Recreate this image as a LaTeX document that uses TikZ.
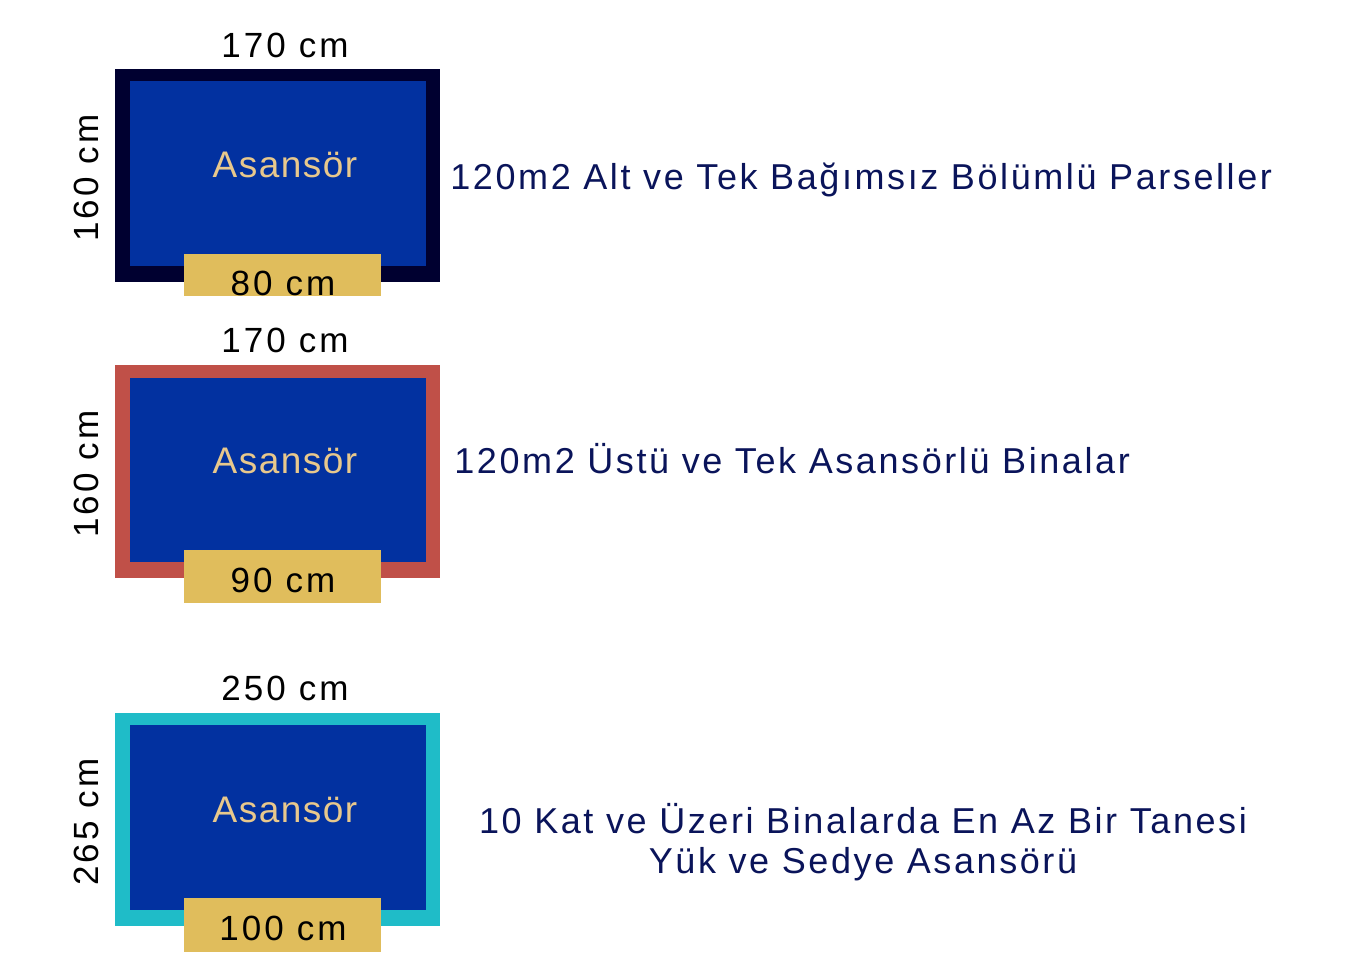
\documentclass[tikz,border=0pt]{standalone}
\usepackage{fontspec}
\setmainfont{Liberation Sans}
\newfontfamily\dimfont[LetterSpace=9]{Liberation Sans}
\newfontfamily\capfont[LetterSpace=4]{Liberation Sans}
\newfontfamily\notefont[LetterSpace=7.2]{Liberation Sans}
\usepackage{tikz}
\usetikzlibrary{positioning}

\definecolor{frameone}{RGB}{0,0,48}
\definecolor{frametwo}{RGB}{192,80,72}
\definecolor{framethree}{RGB}{31,188,200}
\definecolor{cabin}{RGB}{2,49,160}
\definecolor{doorgold}{RGB}{224,189,92}
\definecolor{cabintext}{RGB}{232,200,140}
\definecolor{notenavy}{RGB}{10,20,90}

\tikzset{
  dimlabel/.style={font=\dimfont\fontsize{17.5}{20}\selectfont, text=black, inner sep=0pt},
  cabinlabel/.style={font=\capfont\fontsize{18.5}{22}\selectfont, text=cabintext, inner sep=0pt},
  notelabel/.style={font=\notefont\fontsize{18}{22}\selectfont, text=notenavy, inner sep=0pt},
}

\begin{document}
\begin{tikzpicture}[x=0.5pt, y=-0.5pt]
\def \boxleft {115}
\def \boxright {440}
\def \cableft {130}
\def \cabright {426}
\def \doorleft {184}
\def \doorright {381}
\def \midx {285}

\useasboundingbox (0,0) rectangle (1366,975);

%Box 1
\node[dimlabel, anchor=base] (topone) at (\midx,57) {170 cm};
\node[dimlabel, anchor=base, rotate=90] (sideone) at (98,178) {160 cm};
\fill[frameone] (\boxleft,69) rectangle (\boxright,282);
\fill[cabin] (\cableft,81) rectangle (\cabright,266);
\node[cabinlabel, anchor=base] (cabone) at (\midx,177) {Asansör};
\fill[doorgold] (\doorleft,254) rectangle (\doorright,296);
\node[dimlabel, anchor=base] (doorone) at (283,295) {80 cm};
\node[notelabel, anchor=base west] (noteone) at (450,189) {120m2 Alt ve Tek Bağımsız Bölümlü Parseller};

%Box 2
\node[dimlabel, anchor=base] (toptwo) at (\midx,352) {170 cm};
\node[dimlabel, anchor=base, rotate=90] (sidetwo) at (98,474) {160 cm};
\fill[frametwo] (\boxleft,365) rectangle (\boxright,578);
\fill[cabin] (\cableft,378) rectangle (\cabright,562);
\node[cabinlabel, anchor=base] (cabtwo) at (\midx,473) {Asansör};
\fill[doorgold] (\doorleft,550) rectangle (\doorright,603);
\node[dimlabel, anchor=base] (doortwo) at (283,592) {90 cm};
\node[notelabel, anchor=base west] (notetwo) at (454,473) {120m2 Üstü ve Tek Asansörlü Binalar};

%Box 3
\node[dimlabel, anchor=base] (topthree) at (\midx,700) {250 cm};
\node[dimlabel, anchor=base, rotate=90] (sidethree) at (98,822) {265 cm};
\fill[framethree] (\boxleft,713) rectangle (\boxright,926);
\fill[cabin] (\cableft,725) rectangle (\cabright,910);
\node[cabinlabel, anchor=base] (cabthree) at (\midx,822) {Asansör};
\fill[doorgold] (\doorleft,898) rectangle (\doorright,952);
\node[dimlabel, anchor=base] (doorthree) at (283,940) {100 cm};
\node[notelabel, anchor=base] (notethree) at (863,833) {10 Kat ve Üzeri Binalarda En Az Bir Tanesi};
\node[notelabel, anchor=base] (notefour) at (863,873) {Yük ve Sedye Asansörü};

\end{tikzpicture}
\end{document}
